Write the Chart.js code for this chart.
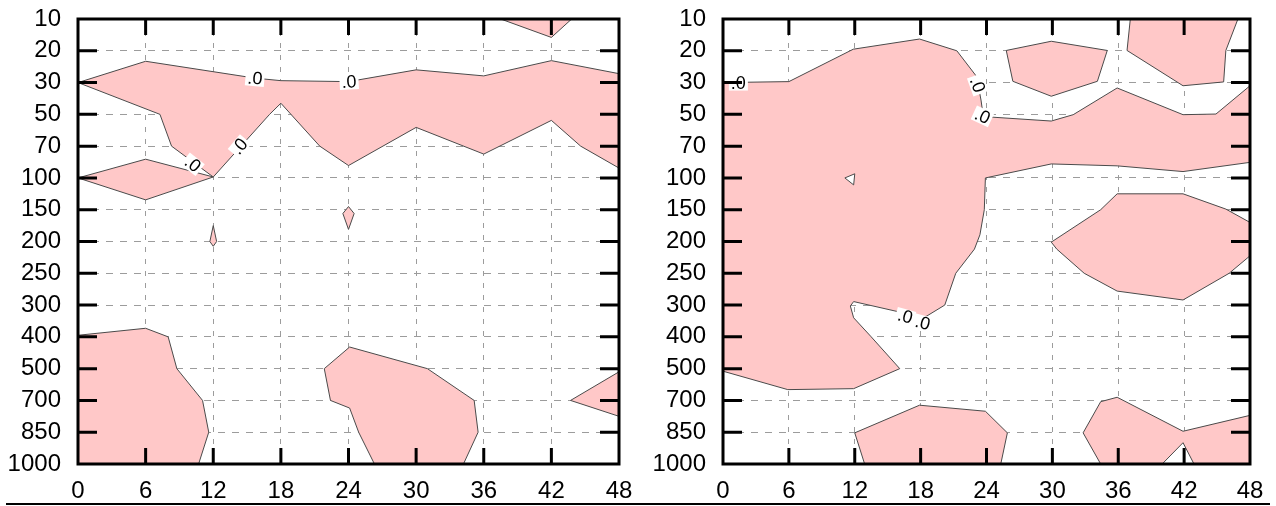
<!DOCTYPE html>
<html>
<head>
<meta charset="utf-8">
<script src="https://cdn.jsdelivr.net/npm/chart.js@4/dist/chart.umd.min.js"></script>
<style>
  html, body { margin: 0; padding: 0; background: #fff; }
  #wrap { position: relative; width: 1276px; height: 506px; overflow: hidden; }
  #c1 { position: absolute; left: 0; top: 0; }
  #c2 { position: absolute; left: 640px; top: 0; }
  #rule { position: absolute; left: 6px; top: 503px; width: 1264px; height: 2px; background: #000; }
</style>
</head>
<body>
<div id="wrap">
  <canvas id="c1" width="640" height="506"></canvas>
  <canvas id="c2" width="636" height="506"></canvas>
  <div id="rule"></div>
</div>
<script>
// ---------- tick labels ----------
const levels = ['10','20','30','50','70','100','150','200','250','300','400','500','700','850','1000'];
const hours = [0, 6, 12, 18, 24, 30, 36, 42, 48];

// ---------- left panel contour regions: [hour, level index] ----------
const leftTopWedge = [[37.5,0],[42,0.58],[43.8,0],[37.5,0]];
const leftBand = [[0,2.0],[6,1.33],[15.7,1.86],[18,1.94],[24,1.97],[30,1.6],[36,1.79],[42,1.31],[48,1.72],
  [48,4.69],[44.6,4.0],[42,3.19],[36,4.25],[30,3.41],[24,4.61],[21.45,4.0],[18,2.65],[17,3.0],[12,4.97],
  [8.3,4.0],[7.27,3.0],[0,2.0]];
const leftDiamond = [[0,5.0],[6,4.41],[12,4.97],[6,5.69],[0,5.0]];
const leftSpike12 = [[12,6.5],[12.3,7.0],[12,7.15],[11.7,7.0],[12,6.5]];
const leftSpike24 = [[24,5.9],[24.5,6.12],[24,6.62],[23.5,6.12],[24,5.9]];
const leftLowLeft = [[0,9.95],[6,9.73],[8,10.0],[8.77,11.0],[11.05,12.0],[11.6,13.0],[10.7,14.0],[0,14.0],[0,9.95]];
const leftLowMid = [[24.1,10.32],[21.85,11.0],[22.4,12.0],[24.1,12.24],[24.9,13.0],[26.3,14.0],[34.2,14.0],
  [35.5,13.0],[35.15,12.0],[31.0,11.0],[24.1,10.32]];
const leftLowRight = [[48,11.1],[43.7,12.0],[48,12.5],[48,11.1]];
const leftLabels = [[15.7,1.86,5],[24.05,1.97,-3],[14.3,4.0,-50],[10.2,4.56,38]];

// ---------- right panel contour regions ----------
const rightMain = [[0,2.0],[6,1.97],[11.87,0.95],[17.9,0.63],[21.3,1.0],[23.1,1.81],[23.5,2.55],[23.7,3.05],
  [24.6,3.09],[29.9,3.21],[31.9,3.01],[35.9,2.17],[41.9,3.01],[44.9,2.99],[48,2.1],[48,4.51],[41.9,4.8],
  [35.9,4.62],[29.9,4.56],[23.9,5.0],[23.8,6.0],[23.4,6.79],[22.9,7.24],[21.2,8.0],[20.2,9.0],[18.3,9.4],
  [16.1,9.22],[11.9,8.89],[11.6,9.03],[11.9,9.4],[13.5,10.0],[16.1,11.0],[11.9,11.63],[5.9,11.66],
  [0,11.08],[0,2.0]];
const rightHole = [[11.1,5.0],[12.0,4.87],[11.9,5.22],[11.1,5.0]];
const rightTopMid = [[25.8,0.99],[29.9,0.7],[35.0,0.99],[34.1,1.96],[29.9,2.43],[26.4,1.96],[25.8,0.99]];
const rightTopRight = [[37.1,0],[36.8,0.99],[41.9,2.1],[45.6,1.98],[45.8,0.99],[46.9,0],[37.1,0]];
const rightMidRight = [[29.9,7.02],[34.4,6.0],[35.9,5.5],[41.9,5.5],[45.8,5.98],[48,6.4],[48,7.45],[46.1,8.0],
  [41.9,8.84],[35.9,8.56],[32.9,8.0],[30.4,7.24],[29.9,7.02]];
const rightLowMid = [[12.0,13.02],[17.9,12.15],[23.9,12.34],[25.9,13.02],[25.3,14.0],[12.9,14.0],[12.0,13.02]];
const rightLowRight = [[32.8,13.02],[34.4,12.04],[35.9,11.9],[41.9,12.97],[48,12.47],[48,14],[42.9,14],
  [41.9,13.33],[40.0,14.0],[34.4,14],[32.8,13.02]];
const rightLabels = [[1.4,2.0,0],[23.2,2.07,70],[23.65,3.05,25],[16.6,9.35,15],[18.2,9.55,15]];

// ---------- styling ----------
const PINK = '#ffc8c8';
const LINE = '#4a4a4a';
Chart.defaults.font.family = "'Liberation Sans', Arial, sans-serif";
Chart.defaults.color = '#000';

const framePlugin = {
  id: 'frame',
  afterDraw(chart, args, opts) {
    const ctx = chart.ctx, a = chart.chartArea;
    const xs = chart.scales.x, ys = chart.scales.y;
    ctx.save();
    // contour labels
    ctx.font = "18px 'Liberation Sans', Arial, sans-serif";
    ctx.textAlign = 'center';
    ctx.textBaseline = 'middle';
    for (const [lx, ly, ang] of opts.labels || []) {
      ctx.save();
      ctx.translate(xs.getPixelForValue(lx), ys.getPixelForValue(ly));
      ctx.rotate(ang * Math.PI / 180);
      const w = ctx.measureText('.0').width;
      ctx.fillStyle = '#fff';
      ctx.fillRect(-w / 2 - 2, -7, w + 4, 15);
      ctx.fillStyle = '#000';
      ctx.fillText('.0', 0, 1);
      ctx.restore();
    }
    // inward ticks
    ctx.strokeStyle = '#000';
    ctx.lineWidth = 3;
    ctx.lineCap = 'butt';
    ctx.beginPath();
    for (const h of hours.slice(1, -1)) {
      const px = xs.getPixelForValue(h);
      ctx.moveTo(px, a.bottom); ctx.lineTo(px, a.bottom - 16);
      ctx.moveTo(px, a.top); ctx.lineTo(px, a.top + 16);
    }
    for (let i = 1; i < levels.length - 1; i++) {
      const py = ys.getPixelForValue(i);
      ctx.moveTo(a.left, py); ctx.lineTo(a.left + 19, py);
      ctx.moveTo(a.right, py); ctx.lineTo(a.right - 19, py);
    }
    ctx.stroke();
    // frame
    ctx.strokeRect(a.left, a.top, a.right - a.left, a.bottom - a.top);
    ctx.restore();
  }
};

function makeChart(id, polys, holes, labels, yWidth, rightPad) {
  const toDs = (pts, hole) => ({
    data: pts.map(([x, y]) => ({x, y})),
    showLine: true,
    fill: 'shape',
    backgroundColor: hole ? '#ffffff' : PINK,
    borderColor: LINE,
    borderWidth: 1,
    pointRadius: 0,
    tension: 0,
    order: hole ? -1 : 0
  });
  const datasets = polys.map(p => toDs(p, false)).concat(holes.map(p => toDs(p, true)));
  return new Chart(document.getElementById(id), {
    type: 'scatter',
    data: { datasets },
    plugins: [framePlugin],
    options: {
      responsive: false,
      animation: false,
      events: [],
      layout: { padding: { top: 19, right: rightPad, left: 0, bottom: 0 } },
      plugins: { legend: { display: false }, tooltip: { enabled: false }, frame: { labels } },
      scales: {
        x: {
          type: 'linear', min: 0, max: 48, z: 1,
          afterBuildTicks: s => { s.ticks = hours.map(v => ({ value: v })); },
          ticks: { font: { size: 24 }, padding: 13, maxRotation: 0, autoSkip: false, color: '#000' },
          grid: { color: '#9c9c9c', lineWidth: 1, drawTicks: false },
          border: { display: false, dash: [5, 7] },
          afterFit: s => { s.height = 42; s.paddingLeft = 0; s.paddingRight = 0; }
        },
        y: {
          type: 'linear', reverse: true, min: 0, max: 14, z: 1,
          afterBuildTicks: s => { s.ticks = levels.map((l, i) => ({ value: i })); },
          ticks: { font: { size: 24 }, padding: 17, autoSkip: false, color: '#000',
                   callback: (v) => levels[v] },
          grid: { color: '#9c9c9c', lineWidth: 1, drawTicks: false },
          border: { display: false, dash: [7, 7] },
          afterFit: s => { s.width = yWidth; s.paddingTop = 0; s.paddingBottom = 0; }
        }
      }
    }
  });
}

makeChart('c1',
  [leftTopWedge, leftBand, leftDiamond, leftSpike12, leftSpike24, leftLowLeft, leftLowMid, leftLowRight],
  [], leftLabels, 78, 21);
makeChart('c2',
  [rightMain, rightTopMid, rightTopRight, rightMidRight, rightLowMid, rightLowRight],
  [rightHole], rightLabels, 83, 26);
</script>
</body>
</html>
